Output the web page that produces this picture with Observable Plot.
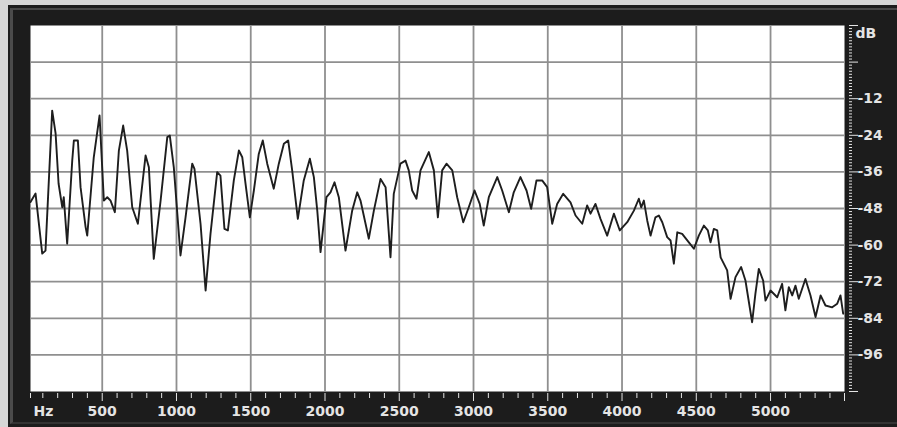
<!DOCTYPE html>
<html>
<head>
<meta charset="utf-8">
<script src="https://cdn.jsdelivr.net/npm/d3@7"></script>
<script src="https://cdn.jsdelivr.net/npm/@observablehq/plot@0.6"></script>
<style>
  html, body { margin: 0; padding: 0; background: #d6d6d6; }
  #wrap { position: relative; width: 897px; height: 427px; overflow: hidden; background: #d6d6d6; }
  #panel { position: absolute; left: 8px; top: 5px; width: 889px; height: 422px; background: #1c1c1c; }
  #bevel { position: absolute; left: 10px; top: 8px; right: 0; bottom: 3px;
           border-left: 3px solid #4b4b4b; border-top: 2px solid #474747; border-bottom: 2px solid #333; }
  #chart { position: absolute; left: 8px; top: 5px; }
  #chart svg { display: block; }
</style>
</head>
<body>
<div id="wrap">
  <div id="panel"></div>
  <div id="bevel"></div>
  <div id="chart"></div>
</div>
<script>
// Spectrum trace: frequency (Hz) and level (dB)
const freqHz = [17,51,96,118,163,186,206,231,241,264,298,309,336,354,388,399,443,482,511,534,
  556,585,612,641,668,702,740,792,814,847,893,938,955,982,1027,1061,1106,1121,1162,1196,
  1229,1274,1296,1323,1346,1386,1420,1443,1465,1494,1521,1554,1581,1611,1655,1689,1723,1752,1779,1817,
  1857,1898,1925,1948,1970,2010,2037,2064,2093,2138,2183,2217,2239,2295,2329,2374,2408,2441,2463,2508,
  2542,2564,2587,2616,2643,2699,2733,2760,2789,2818,2857,2890,2931,2968,3007,3042,3069,3103,3160,3193,
  3238,3271,3316,3357,3388,3424,3462,3496,3530,3563,3604,3653,3687,3732,3765,3788,3821,3855,3900,3945,
  3985,4035,4080,4113,4129,4147,4170,4192,4225,4248,4271,4304,4327,4349,4372,4405,4450,4484,4517,4551,
  4578,4596,4618,4641,4664,4708,4731,4764,4802,4831,4876,4898,4921,4950,4966,5000,5045,5078,5100,5123,
  5146,5168,5190,5235,5269,5303,5337,5370,5415,5449,5471,5489];
const levelDb = [-45.9,-43.1,-62.8,-61.8,-15.9,-23.4,-39.8,-47.6,-44.3,-59.5,-32.3,-25.7,-25.7,-41.0,-54.1,-56.9,-31.2,-17.5,-45.4,-44.3,
  -45.4,-49.2,-29.0,-20.8,-29.0,-47.6,-53.0,-30.6,-34.5,-64.5,-45.4,-24.6,-24.1,-34.5,-63.4,-50.9,-33.3,-35.0,-53.0,-74.9,
  -56.3,-36.1,-37.2,-54.7,-55.2,-38.8,-29.0,-31.2,-39.9,-50.9,-42.1,-30.1,-25.7,-33.3,-41.5,-33.3,-26.8,-25.7,-35.5,-51.4,
  -38.8,-31.7,-37.7,-48.7,-62.3,-44.3,-42.7,-39.4,-44.3,-61.8,-48.7,-42.7,-45.4,-57.9,-48.7,-38.3,-41.0,-64.0,-43.2,-33.3,
  -32.3,-35.5,-42.1,-44.8,-35.5,-29.5,-35.5,-50.9,-35.5,-33.3,-35.5,-44.3,-52.5,-47.6,-42.1,-46.5,-53.6,-44.3,-37.7,-42.1,
  -49.2,-42.7,-37.7,-42.1,-48.1,-38.8,-38.8,-41.0,-53.0,-46.5,-43.2,-46.0,-50.3,-53.0,-47.0,-49.7,-46.5,-51.4,-56.9,-49.7,
  -55.2,-52.5,-48.7,-44.8,-47.6,-45.4,-52.0,-56.9,-50.9,-50.3,-52.5,-57.4,-58.5,-66.1,-55.8,-56.3,-59.1,-61.2,-56.9,-53.6,
  -55.2,-59.1,-54.7,-55.2,-64.0,-68.3,-77.6,-70.5,-67.2,-71.6,-85.3,-76.0,-67.8,-71.6,-78.2,-74.9,-77.1,-72.7,-81.4,-73.8,
  -76.5,-73.3,-77.6,-71.1,-76.5,-83.6,-76.5,-79.8,-80.4,-79.2,-76.5,-82.5];

// Axis ranges and tick values
const hzDomain = [17, 5498];
const dbDomain = [-108, 12];
const hzLabels = [500, 1000, 1500, 2000, 2500, 3000, 3500, 4000, 4500, 5000];
const hzMinor = d3.range(100, 5500, 100).filter(d => d % 500 !== 0);
const dbGrid = [0, -12, -24, -36, -48, -60, -72, -84, -96];
const dbLabels = [-12, -24, -36, -48, -60, -72, -84, -96];
const dbMajor = [12, 0, -12, -24, -36, -48, -60, -72, -84, -96, -108];
const dbMinor = d3.range(-107, 12, 1).filter(d => d % 12 !== 0);

const trace = freqHz.map((hz, i) => ({hz, db: levelDb[i]}));

const ink = "#e4e4e4";
const gridColor = "#8f8f8f";

const chart = Plot.plot({
  width: 889,
  height: 422,
  marginLeft: 22,
  marginRight: 53,
  marginTop: 20,
  marginBottom: 36,
  style: {background: "transparent", color: ink, fontFamily: "DejaVu Sans, sans-serif", fontSize: "14px", fontWeight: "bold"},
  x: {domain: hzDomain, axis: null},
  y: {domain: dbDomain, axis: null},
  marks: [
    Plot.frame({fill: "white", stroke: null}),
    Plot.gridX(hzLabels, {stroke: gridColor, strokeOpacity: 1, strokeWidth: 1.8}),
    Plot.gridY(dbGrid, {stroke: gridColor, strokeOpacity: 1, strokeWidth: 1.8}),
    Plot.line(trace, {x: "hz", y: "db", stroke: "#1e1e1e", strokeWidth: 1.9, strokeLinejoin: "round"}),

    // bottom frequency axis
    Plot.axisX(hzMinor.concat([hzDomain[0]]), {tickSize: 5, dy: 2, tickFormat: () => "", stroke: ink, label: null}),
    Plot.axisX(hzLabels.concat([hzDomain[1]]), {tickSize: 8, dy: 2, tickFormat: () => "", stroke: ink, label: null}),
    Plot.text(hzLabels, {x: d => d, frameAnchor: "bottom", dy: 20, text: d => String(d), fill: ink, lineAnchor: "middle"}),
    Plot.text(["Hz"], {frameAnchor: "bottom-left", dx: 3, dy: 20, text: d => d, fill: ink, textAnchor: "start", lineAnchor: "middle"}),

    // right level axis
    Plot.axisY(dbMinor, {anchor: "right", tickSize: 3, dx: 4, tickFormat: () => "", stroke: ink, label: null}),
    Plot.axisY(dbMajor, {anchor: "right", tickSize: 9, dx: 4, tickFormat: () => "", stroke: ink, label: null}),
    Plot.text(dbLabels, {y: d => d, frameAnchor: "right", dx: 13, text: d => String(d), fill: ink, textAnchor: "start", lineAnchor: "middle"}),
    Plot.text(["dB"], {frameAnchor: "top-right", dx: 11, dy: 8, text: d => d, fill: ink, textAnchor: "start", lineAnchor: "middle"})
  ]
});

document.getElementById("chart").appendChild(chart);
</script>
</body>
</html>
